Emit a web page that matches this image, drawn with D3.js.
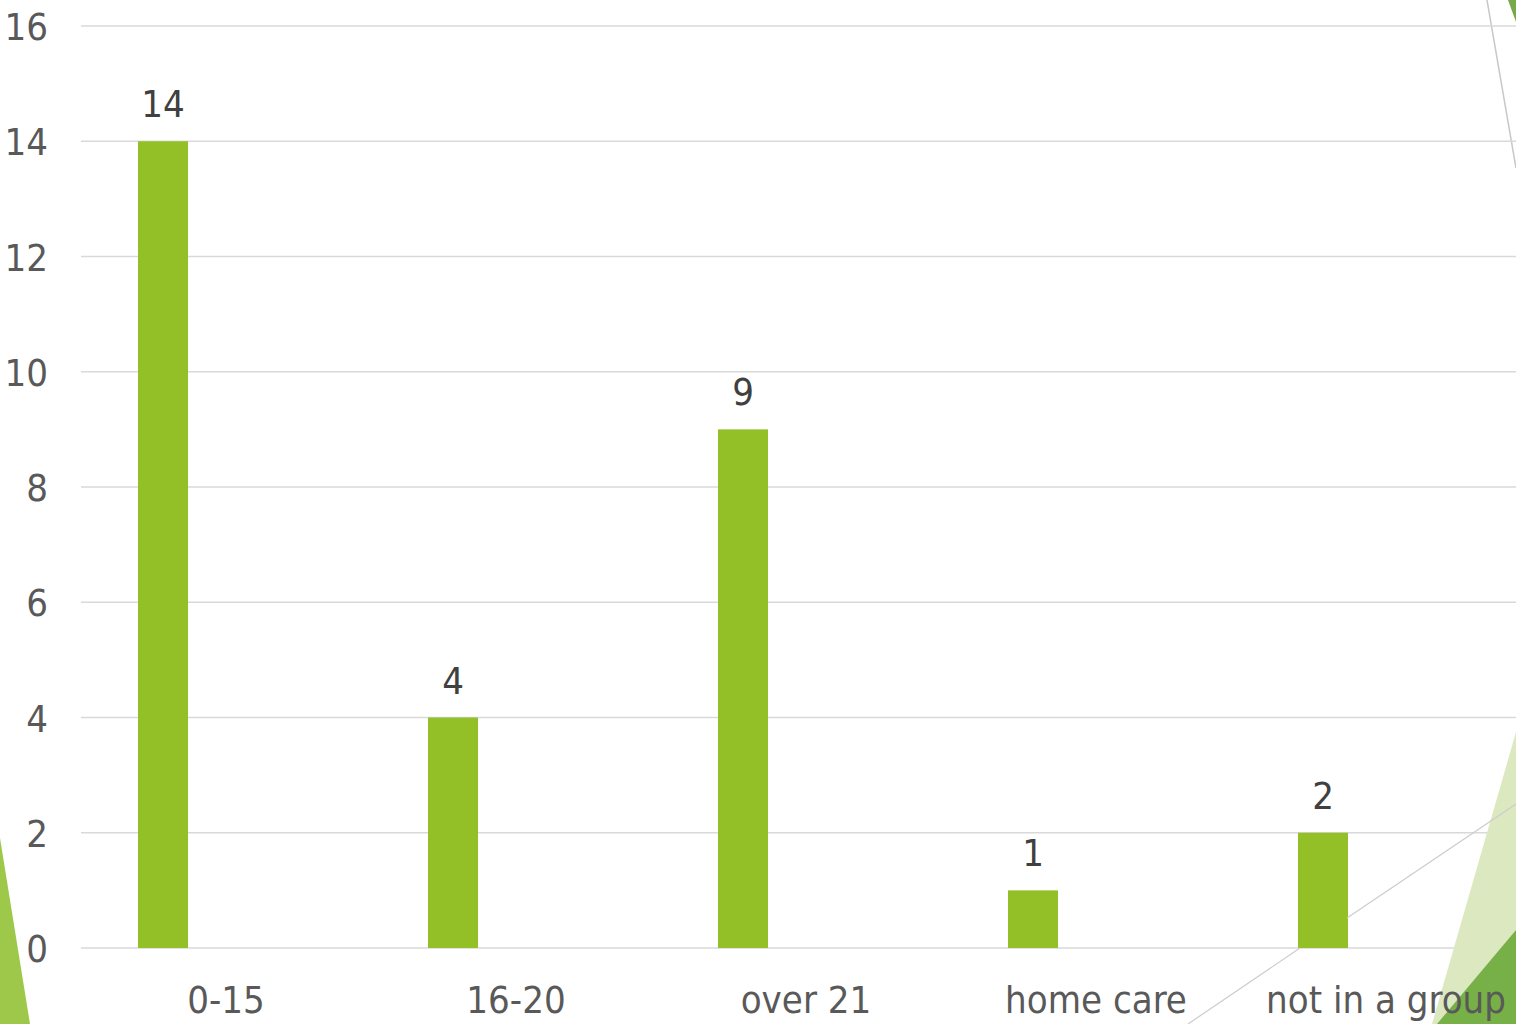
<!DOCTYPE html>
<html><head><meta charset="utf-8">
<script src="https://cdn.jsdelivr.net/npm/d3@7"></script>
<style>html,body{margin:0;padding:0;background:#fff;overflow:hidden}</style>
</head><body>
<svg id="c" width="1516" height="1024"></svg>
<script>
const categories = ["0-15", "16-20", "over 21", "home care", "not in a group"];
const values = [14, 4, 9, 1, 2];
const yTicks = [0, 2, 4, 6, 8, 10, 12, 14, 16];

const svg = d3.select("#c");
const font = "'DejaVu Sans Condensed', 'DejaVu Sans', sans-serif";
const W = 1516, H = 1024;

// decorations
svg.append("polygon").attr("points", "0,838 0,1024 30,1024").attr("fill", "#9dc84a");
svg.append("polygon").attr("points", "1508,0 1516,0 1516,22").attr("fill", "#77a84a");
svg.append("line").attr("x1", 1487).attr("y1", 0).attr("x2", 1516).attr("y2", 168).attr("stroke", "#c8c8c8").attr("stroke-width", 1.5);

const x = d3.scaleBand().domain(categories).range([81, 1531]).paddingInner(0).paddingOuter(0);
const y = d3.scaleLinear().domain([0, 16]).range([948, 26]);

// grid
svg.append("g").selectAll("line").data(yTicks).join("line")
  .attr("x1", 81).attr("x2", W).attr("y1", d => y(d)).attr("y2", d => y(d))
  .attr("stroke", "#d9d9d9").attr("stroke-width", 1.5);

// y labels
svg.append("g").selectAll("text").data(yTicks).join("text")
  .attr("x", 48).attr("y", d => y(d) + 14).attr("text-anchor", "end")
  .attr("font-family", font).attr("font-size", 38).attr("fill", "#595959").text(d => d);

// bars
const bw = 50;
svg.append("g").selectAll("rect").data(values).join("rect")
  .attr("x", (d, i) => x(categories[i]) + x.bandwidth() / 2 - 63 - bw / 2)
  .attr("y", d => y(d)).attr("width", bw).attr("height", d => y(0) - y(d))
  .attr("fill", "#92c026");

// value labels
svg.append("g").selectAll("text").data(values).join("text")
  .attr("x", (d, i) => x(categories[i]) + x.bandwidth() / 2 - 63)
  .attr("y", d => y(d) - 24).attr("text-anchor", "middle")
  .attr("font-family", font).attr("font-size", 38).attr("fill", "#404040").text(d => d);

// bottom right decorations
svg.append("polygon").attr("points", "1516,732 1516,1024 1432,1024").attr("fill", "#dce9c0");
svg.append("polygon").attr("points", "1516,930 1516,1024 1437,1024").attr("fill", "#77b046");
svg.append("line").attr("x1", 1188).attr("y1", 1024).attr("x2", 1300).attr("y2", 948).attr("stroke", "#cccccc").attr("stroke-width", 1.2);
svg.append("line").attr("x1", 1347).attr("y1", 918).attr("x2", 1516).attr("y2", 804).attr("stroke", "#cccccc").attr("stroke-width", 1.2);

// category labels
svg.append("g").selectAll("text").data(categories).join("text")
  .attr("x", d => x(d) + x.bandwidth() / 2).attr("y", 1013).attr("text-anchor", "middle")
  .attr("font-family", font).attr("font-size", 38).attr("fill", "#595959").text(d => d);
</script>
</body></html>
